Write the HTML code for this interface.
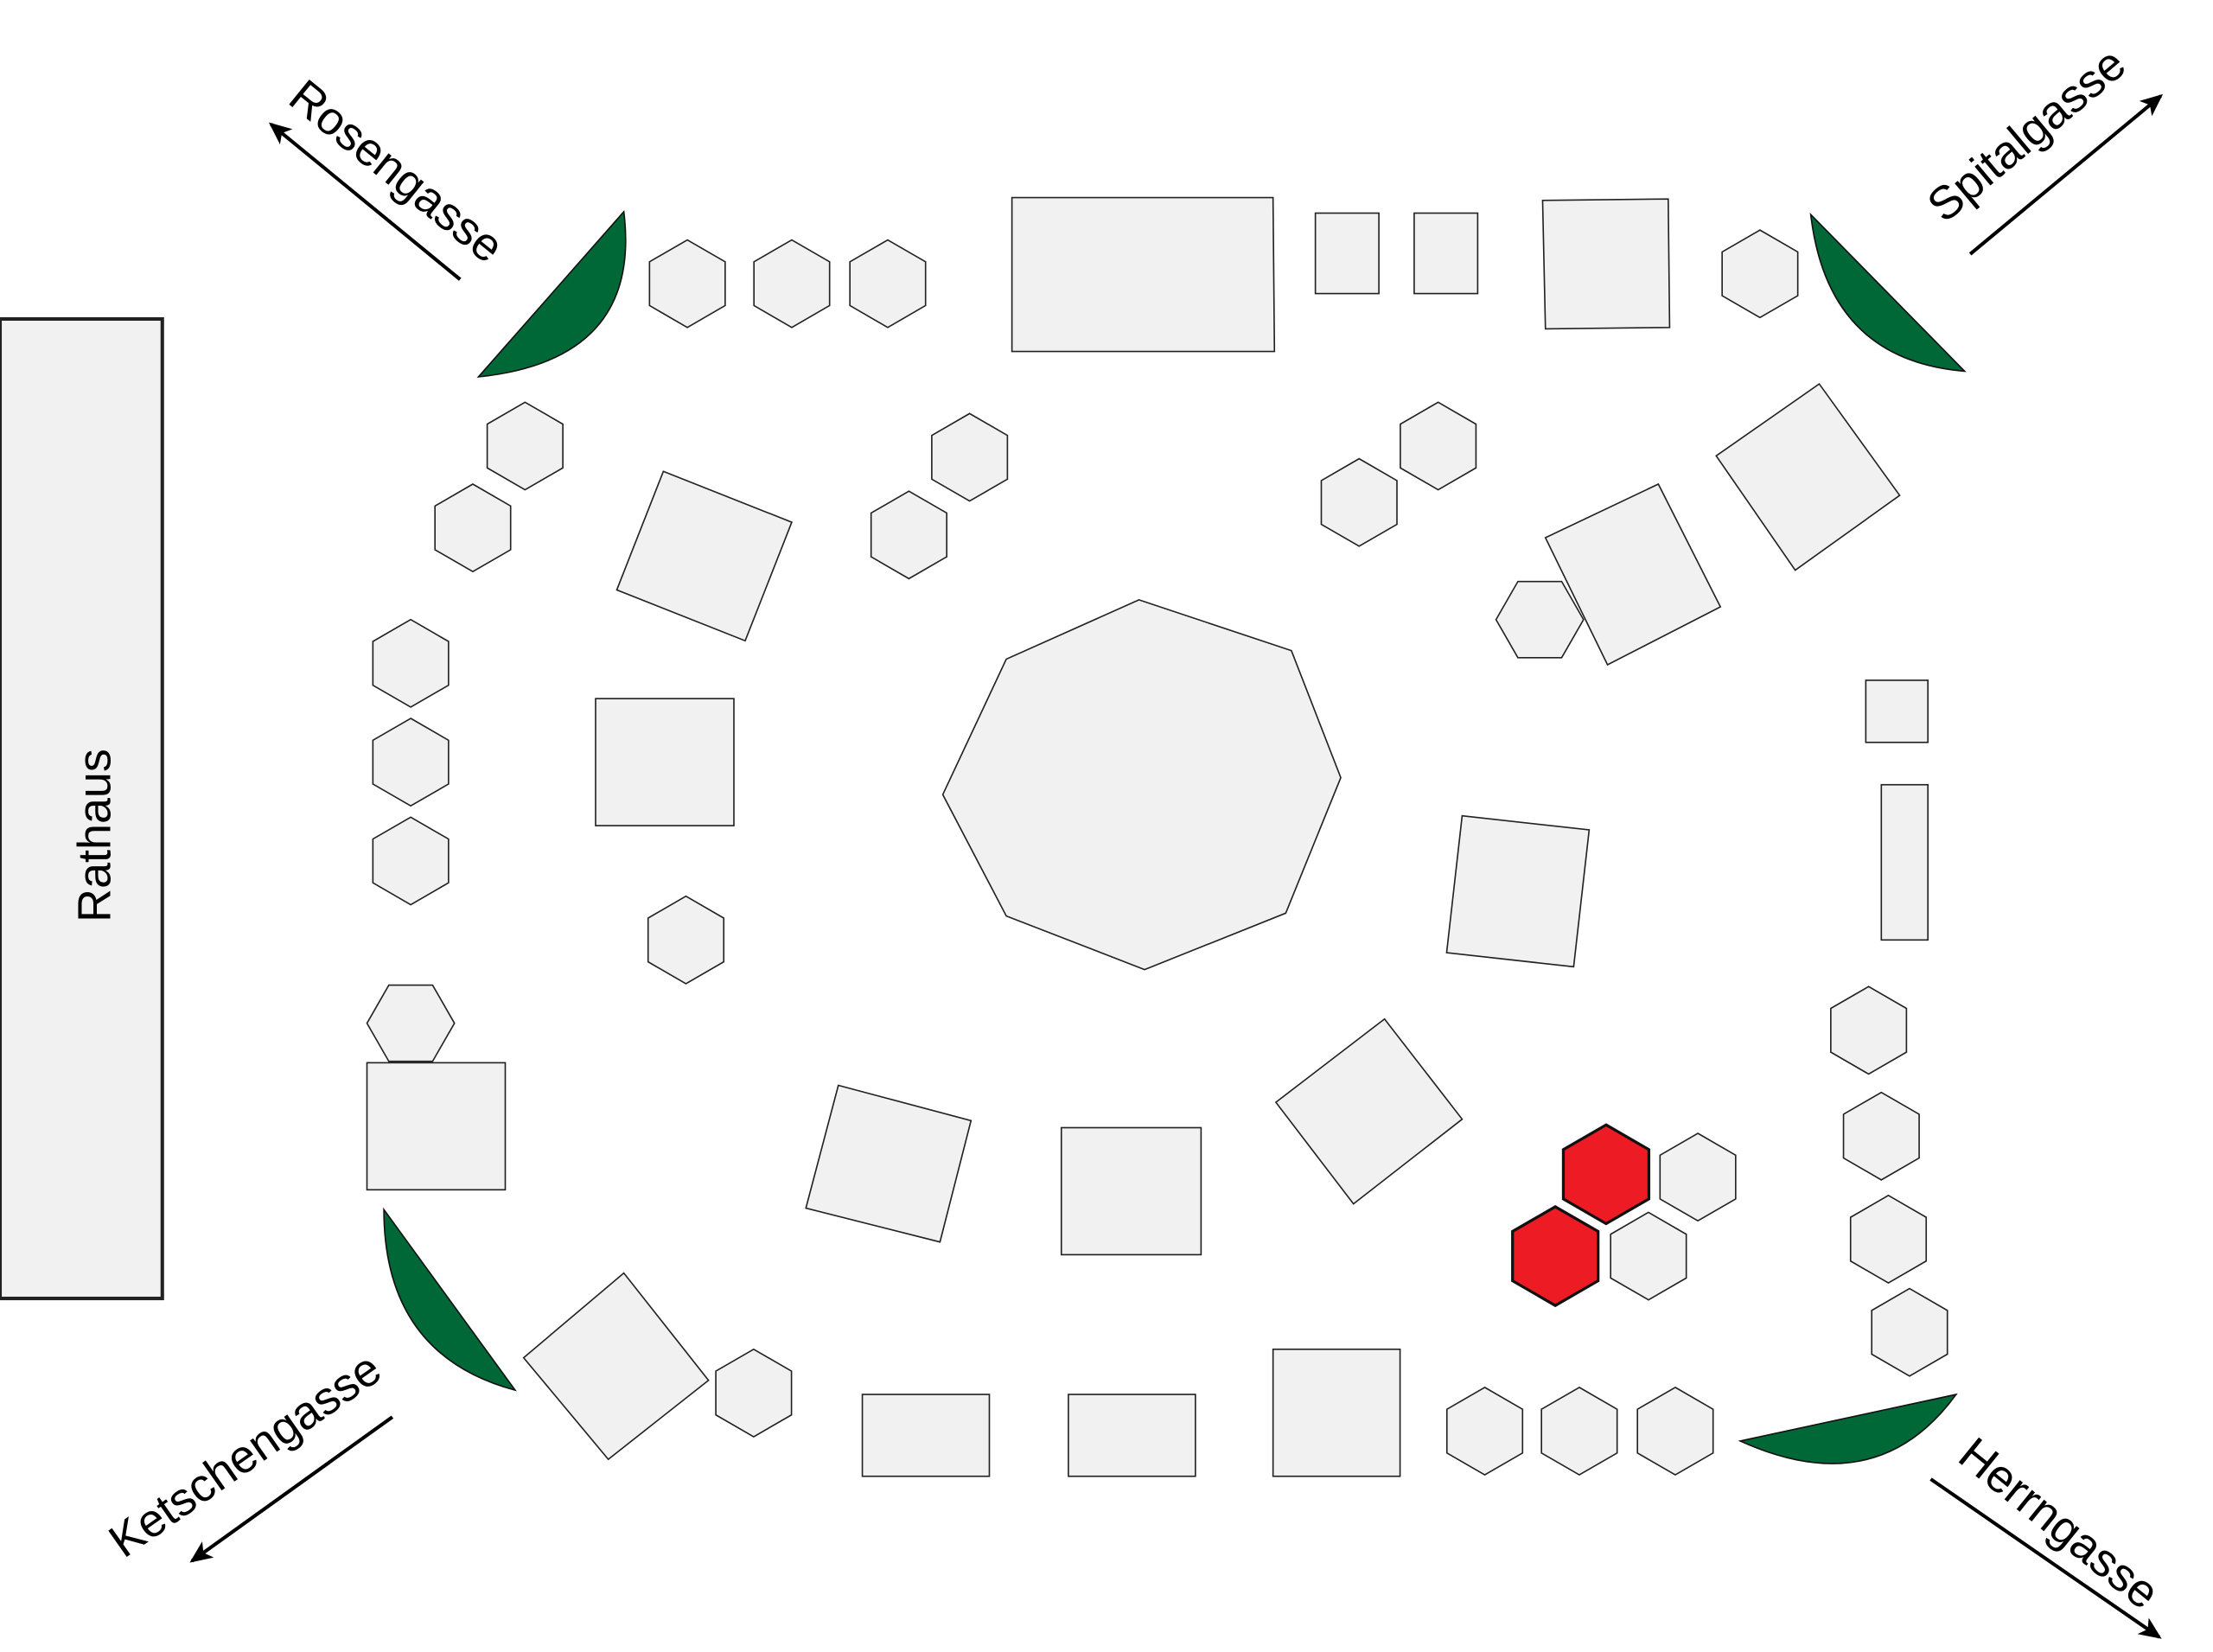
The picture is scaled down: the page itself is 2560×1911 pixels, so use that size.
<!DOCTYPE html>
<html><head><meta charset="utf-8"><style>html,body{margin:0;padding:0;background:#fff}svg{display:block}</style></head>
<body>
<svg width="2560" height="1911" viewBox="0 0 1568 1170.5" xmlns="http://www.w3.org/2000/svg" font-family="Liberation Sans, sans-serif">
<defs>
<polygon id="hp" points="0,-31 26.8,-15.5 26.8,15.5 0,31 -26.8,15.5 -26.8,-15.5" fill="#f1f1f1" stroke="#222" stroke-width="1"/>
<polygon id="hf" points="-31,0 -15.5,-27 15.5,-27 31,0 15.5,27 -15.5,27" fill="#f1f1f1" stroke="#222" stroke-width="1"/>
<polygon id="hr" points="0,-35 30.3,-17.5 30.3,17.5 0,35 -30.3,17.5 -30.3,-17.5" fill="#ed1c24" stroke="#111" stroke-width="2"/>
<marker id="ah" markerWidth="16" markerHeight="14" refX="14" refY="7" orient="auto" markerUnits="userSpaceOnUse"><path d="M0,0 L16,7 L0,14 L4,7 Z" fill="#000"/></marker>
</defs>
<g fill="#f1f1f1" stroke="#222" stroke-width="1">
<rect x="0" y="226" width="115" height="694" stroke-width="2.5"/>
<polygon points="717,140 902,140 903,249 717,249"/>
<rect x="932" y="151" width="45" height="57"/>
<rect x="1002" y="151" width="45" height="57"/>
<polygon points="1093,142 1182,141 1183,232 1095,233"/>
<rect x="422" y="495" width="98" height="90"/>
<rect x="1322" y="482" width="44" height="44"/>
<rect x="1333" y="556" width="33" height="110"/>
<rect x="260" y="753" width="98" height="90"/>
<rect x="752" y="799" width="99" height="90"/>
<rect x="902" y="956" width="90" height="90"/>
<rect x="611" y="988" width="90" height="58"/>
<rect x="757" y="988" width="90" height="58"/>
<polygon points="470,334 561,370 528,454 437,418"/>
<polygon points="1216,323 1289,272 1346,351 1272,404"/>
<polygon points="1036,578 1126,588 1115,685 1025,675"/>
<polygon points="904,781 981,722 1036,793 959,853"/>
<polygon points="594,769 688,794 666,880 571,856"/>
<polygon points="371,962 442,902 502,978 431,1034"/>
<polygon points="807,425 915,461 950,551 911,647 811,687 713,649 668,563 713,467"/>
</g>
<use href="#hf" x="1091" y="439"/>
<polygon points="1095,381 1175,343 1219,430 1139,471" fill="#f1f1f1" stroke="#222"/>
<g>
<use href="#hp" x="487" y="201"/><use href="#hp" x="561" y="201"/><use href="#hp" x="629" y="201"/>
<use href="#hp" x="1247" y="194"/><use href="#hp" x="372" y="316"/><use href="#hp" x="335" y="374"/>
<use href="#hp" x="687" y="324"/><use href="#hp" x="644" y="379"/><use href="#hp" x="1019" y="316"/>
<use href="#hp" x="963" y="356"/><use href="#hp" x="291" y="470"/><use href="#hp" x="291" y="540"/>
<use href="#hp" x="291" y="610"/><use href="#hp" x="486" y="666"/><use href="#hp" x="1324" y="730"/>
<use href="#hp" x="1333" y="805"/><use href="#hp" x="1338" y="878"/><use href="#hp" x="1353" y="944"/>
<use href="#hp" x="534" y="987"/><use href="#hp" x="1052" y="1014"/><use href="#hp" x="1119" y="1014"/>
<use href="#hp" x="1187" y="1014"/><use href="#hp" x="1203" y="834"/><use href="#hp" x="1168" y="890"/>
<use href="#hf" x="291" y="725"/>
<use href="#hr" x="1138" y="832"/><use href="#hr" x="1102" y="890"/>
</g>
<g fill="#006837" stroke="#111" stroke-width="1">
<path d="M339,267 L442,150 Q455,255 339,267 Z"/>
<path d="M1283,152 L1392,263 Q1295,255 1283,152 Z"/>
<path d="M272,857 L365,985 Q272,960 272,857 Z"/>
<path d="M1233,1021 L1386,988 Q1330,1065 1233,1021 Z"/>
</g>
<g stroke="#000" stroke-width="2.5" marker-end="url(#ah)">
<line x1="326" y1="198" x2="192" y2="88"/>
<line x1="1396" y1="180" x2="1531" y2="68"/>
<line x1="278" y1="1004" x2="136" y2="1106"/>
<line x1="1368" y1="1048" x2="1530" y2="1160"/>
</g>
<g font-size="33" fill="#000" text-anchor="middle">
<text transform="translate(78,592) rotate(-90)">Rathaus</text>
<text transform="translate(274,130) rotate(39)">Rosengasse</text>
<text transform="translate(1443,104) rotate(-40)">Spitalgasse</text>
<text transform="translate(180,1040) rotate(-35)">Ketschengasse</text>
<text transform="translate(1452,1088) rotate(39)">Herrngasse</text>
</g>
</svg>
</body></html>
